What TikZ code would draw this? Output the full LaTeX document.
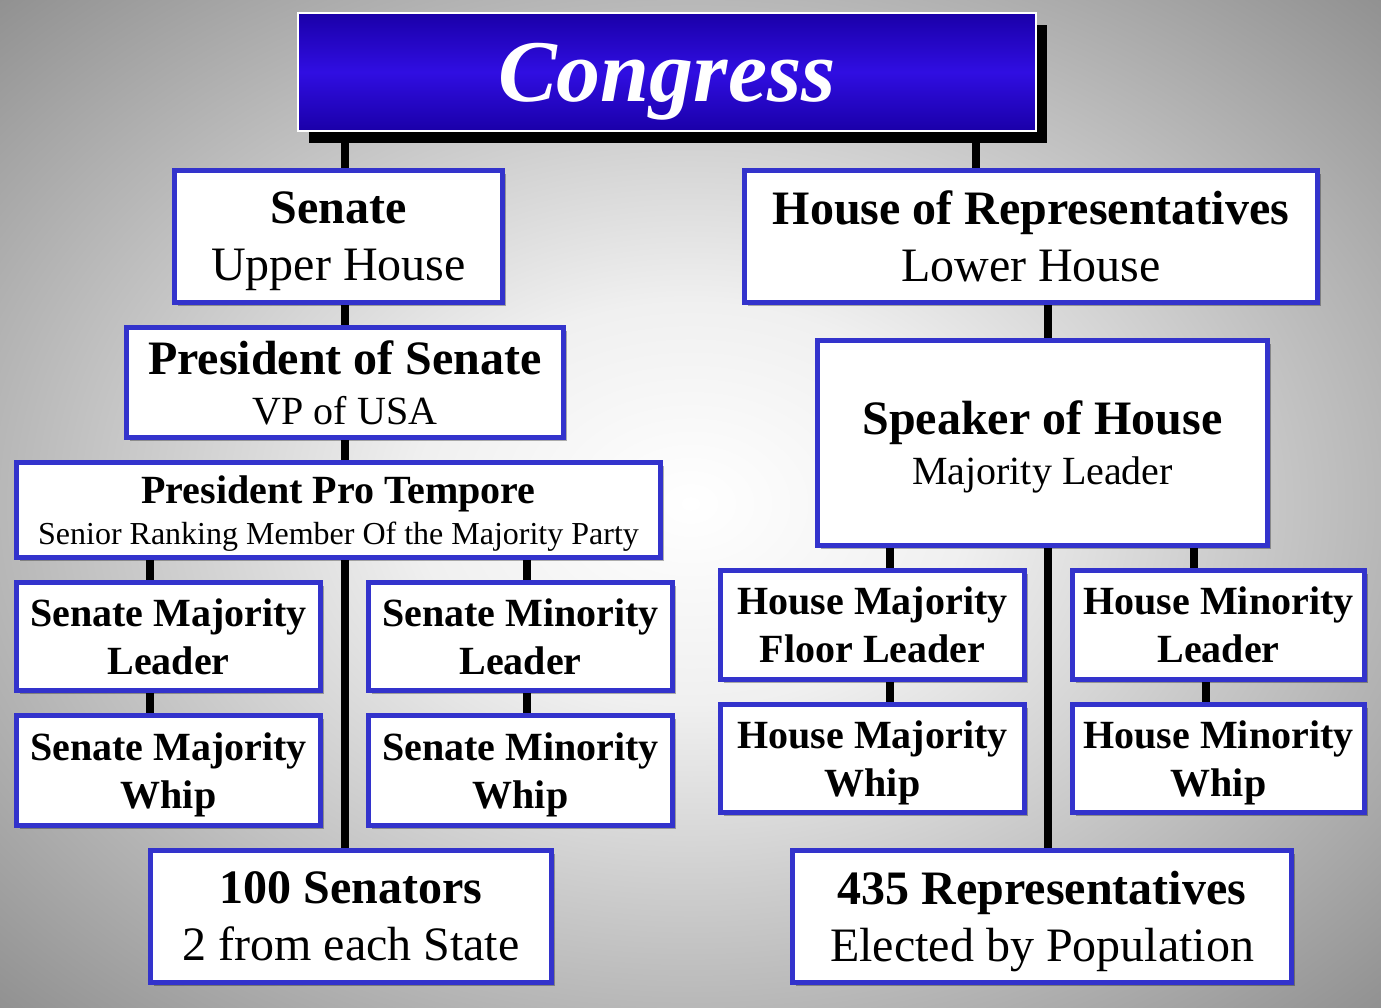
\documentclass[tikz,border=0pt]{standalone}
\usepackage{fontspec}
\setmainfont{Liberation Serif}
\usepackage{xcolor}
\definecolor{cgborder}{RGB}{51,51,204}
\definecolor{cgdark}{RGB}{26,0,168}
\definecolor{cglight}{RGB}{48,14,226}
\usetikzlibrary{shadows}
\pgfdeclareradialshading{cgbackdrop}{\pgfpoint{0bp}{0bp}}{rgb(0bp)=(1,1,1); rgb(10bp)=(0.94,0.94,0.94); rgb(25bp)=(0.72,0.72,0.72); rgb(36bp)=(0.56,0.56,0.56); rgb(50bp)=(0.54,0.54,0.54)}

\begin{document}
\begin{tikzpicture}[x=1pt, y=-1pt,
  orgbox/.style={draw=cgborder, line width=5pt, fill=white, align=center, inner sep=0pt, text depth=0pt,
    drop shadow={shadow xshift=3pt, shadow yshift=-3pt, opacity=0.3, fill=black}},
  link/.style={line width=8pt, black}]
  % Backdrop
  \shade[shading=cgbackdrop] (0,0) rectangle (1381,1007);
  \useasboundingbox (0,0) rectangle (1381,1007);

  % Title bar
  \node[draw=white, line width=1.5pt, top color=cgdark, bottom color=cgdark, middle color=cglight,
        drop shadow={shadow xshift=11pt, shadow yshift=-12pt, opacity=1, fill=black},
        minimum width=738pt, minimum height=118pt, inner sep=0pt, text depth=-4pt, text=white,
        font=\fontsize{88}{100}\selectfont\bfseries\itshape] (congress) at (667,72) {Congress};

  % Senate side
  \node[orgbox, minimum width=328pt, minimum height=132pt, font=\fontsize{48}{57}\selectfont]
       (senate) at (338.5,236.5) {{\bfseries Senate}\\Upper House};
  \node[orgbox, minimum width=437pt, minimum height=110pt, font=\fontsize{48}{50}\selectfont]
       (pres) at (345,382.5) {{\bfseries President of Senate}\\{\fontsize{40}{50}\selectfont VP of USA}};
  \node[orgbox, minimum width=644pt, minimum height=95pt, font=\fontsize{40}{41}\selectfont]
       (protem) at (338.5,510) {{\bfseries President Pro Tempore}\\{\fontsize{32}{41}\selectfont Senior Ranking Member Of the Majority Party}};
  \node[orgbox, minimum width=304pt, minimum height=108pt, font=\fontsize{40}{48}\selectfont\bfseries]
       (smajl) at (168.5,636.5) {Senate Majority\\Leader};
  \node[orgbox, minimum width=304pt, minimum height=110pt, font=\fontsize{40}{48}\selectfont\bfseries]
       (smajw) at (168.5,770.5) {Senate Majority\\Whip};
  \node[orgbox, minimum width=304pt, minimum height=108pt, font=\fontsize{40}{48}\selectfont\bfseries]
       (sminl) at (520.5,636.5) {Senate Minority\\Leader};
  \node[orgbox, minimum width=304pt, minimum height=110pt, font=\fontsize{40}{48}\selectfont\bfseries]
       (sminw) at (520.5,770.5) {Senate Minority\\Whip};
  \node[orgbox, minimum width=401pt, minimum height=132pt, font=\fontsize{48}{57}\selectfont]
       (senators) at (351,916.5) {{\bfseries 100 Senators}\\2 from each State};

  % House side
  \node[orgbox, minimum width=573pt, minimum height=132pt, font=\fontsize{48}{57}\selectfont]
       (house) at (1031,236.5) {{\bfseries House of Representatives}\\Lower House};
  \node[orgbox, minimum width=450pt, minimum height=205pt, font=\fontsize{48}{50}\selectfont]
       (speaker) at (1042.5,443) {{\bfseries Speaker of House}\\{\fontsize{40}{50}\selectfont Majority Leader}};
  \node[orgbox, minimum width=304pt, minimum height=109pt, font=\fontsize{40}{48}\selectfont\bfseries]
       (hmajl) at (872.5,625) {House Majority\\Floor Leader};
  \node[orgbox, minimum width=304pt, minimum height=108pt, font=\fontsize{40}{48}\selectfont\bfseries]
       (hmajw) at (872.5,758.5) {House Majority\\Whip};
  \node[orgbox, minimum width=292pt, minimum height=109pt, font=\fontsize{40}{48}\selectfont\bfseries]
       (hminl) at (1218.5,625) {House Minority\\Leader};
  \node[orgbox, minimum width=292pt, minimum height=108pt, font=\fontsize{40}{48}\selectfont\bfseries]
       (hminw) at (1218.5,758.5) {House Minority\\Whip};
  \node[orgbox, minimum width=499pt, minimum height=132pt, font=\fontsize{48}{57}\selectfont]
       (reps) at (1042,916.5) {{\bfseries 435 Representatives}\\Elected by Population};

  % Connector columns
  \coordinate (sspine) at (345,0);
  \coordinate (smaj) at (150,0);
  \coordinate (smin) at (527,0);
  \coordinate (hspine) at (976,0);
  \coordinate (hmid) at (1048,0);
  \coordinate (hmaj) at (890,0);
  \coordinate (hminA) at (1194,0);
  \coordinate (hminB) at (1206,0);

  % Senate connectors
  \draw[link] (congress.south -| sspine) -- (senate.north -| sspine);
  \draw[link] (senate.south -| sspine) -- (pres.north -| sspine);
  \draw[link] (pres.south -| sspine) -- (protem.north -| sspine);
  \draw[link] (protem.south -| sspine) -- (senators.north -| sspine);
  \draw[link] (protem.south -| smaj) -- (smajl.north -| smaj);
  \draw[link] (smajl.south -| smaj) -- (smajw.north -| smaj);
  \draw[link] (protem.south -| smin) -- (sminl.north -| smin);
  \draw[link] (sminl.south -| smin) -- (sminw.north -| smin);

  % House connectors
  \draw[link] (congress.south -| hspine) -- (house.north -| hspine);
  \draw[link] (house.south -| hmid) -- (speaker.north -| hmid);
  \draw[link] (speaker.south -| hmid) -- (reps.north -| hmid);
  \draw[link] (speaker.south -| hmaj) -- (hmajl.north -| hmaj);
  \draw[link] (hmajl.south -| hmaj) -- (hmajw.north -| hmaj);
  \draw[link] (speaker.south -| hminA) -- (hminl.north -| hminA);
  \draw[link] (hminl.south -| hminB) -- (hminw.north -| hminB);
\end{tikzpicture}
\end{document}
